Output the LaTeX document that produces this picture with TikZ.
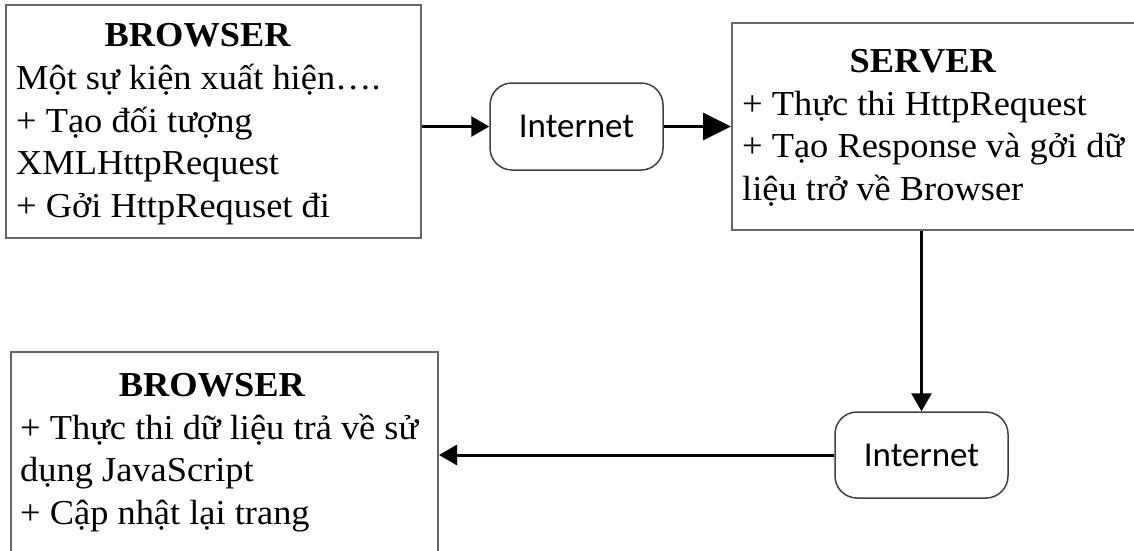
\documentclass[tikz,border=0pt]{standalone}
\usepackage{fontspec}
\setmainfont[FakeStretch = 1.04]{Liberation Serif}
\newfontfamily\calibri{Carlito}
\usetikzlibrary{arrows.meta, positioning, calc}

\begin{document}
\begin{tikzpicture}[x = 1pt, y = -1pt,
        box/.style = {draw = black!60, line width = 2pt, minimum width = #1},
        note/.style = {align = left, inner sep = 0pt, anchor = north west,
            font = \fontsize{35}{42.6}\selectfont},
        cloud/.style = {draw = black!75, line width = 1.5pt, rounded corners = 22pt,
            minimum width = 173pt, minimum height = 87pt, inner sep = 0pt,
            font = \calibri\fontsize{35}{42}\selectfont},
        flow/.style = {black, line width = 3pt, -{Triangle[length = 18pt, width = 20pt]}},
        bigflow/.style = {black, line width = 3pt, -{Triangle[length = 28pt, width = 27pt]}}]
    \clip (0, 0) rectangle (1134, 550);

    \node[box = 414.7pt, minimum height = 233pt] (browser) at (213.35, 121.5) {};
    \node[box = 408pt, minimum height = 207.5pt] (server) at (936, 126.25) {};
    \node[box = 427pt, minimum height = 248pt] (browserback) at (224.5, 476) {};

    \node[cloud] (netA) at (576.5, 126.5) {Internet};
    \node[cloud, minimum height = 86pt] (netB) at (921.5, 455) {Internet};

    \node[note] (browsertext) at (16, 23.5) {\makebox[363pt]{\bfseries BROWSER}\\
        Một sự kiện xuất hiện….\\
        + Tạo đối tượng\\
        XMLHttpRequest\\
        + Gởi HttpRequset đi};
    \node[note] (servertext) at (742, 49.2) {\makebox[361pt]{\bfseries SERVER}\\
        + Thực thi HttpRequest\\
        + Tạo Response và gởi dữ\\
        liệu trở về Browser};
    \node[note] (backtext) at (20, 373.2) {\makebox[383.4pt]{\bfseries BROWSER}\\
        + Thực thi dữ liệu trả về sử\\
        dụng JavaScript\\
        + Cập nhật lại trang};

    \draw[flow] (netA.west -| browser.east) -- (netA.west);
    \draw[bigflow] (netA.east) -- (netA.east -| server.west);
    \draw[flow] (server.south -| netB.north) -- (netB.north);
    \draw[flow] (netB.west) -- (netB.west -| browserback.east);
\end{tikzpicture}
\end{document}
